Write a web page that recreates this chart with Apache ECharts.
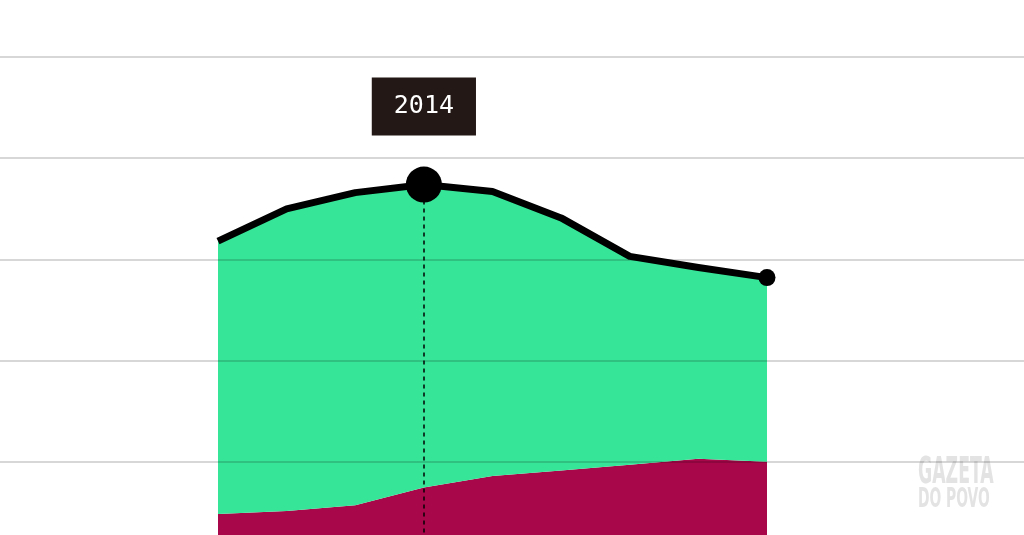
<!DOCTYPE html>
<html><head><meta charset="utf-8">
<script src="https://cdn.jsdelivr.net/npm/echarts@6/dist/echarts.min.js"></script>
<style>html,body{margin:0;padding:0;background:#fff;overflow:hidden;height:535px}#c{width:1024px;height:563px}</style>
</head><body><div id="c"></div>
<script>
const years = ['2011','2012','2013','2014','2015','2016','2017','2018','2019'];
const bottomValues = [0.485, 0.515, 0.57, 0.745, 0.86, 0.915, 0.97, 1.03, 1.0];
const totalValues = [3.18, 3.50, 3.66, 3.74, 3.67, 3.41, 3.03, 2.92, 2.82];
const gridTicks = [0, 1, 2, 3, 4, 5];
const highlightYear = '2014';
const lastYear = '2019';

const topValues = totalValues.map((t, i) => +(t - bottomValues[i]).toFixed(3));
const hiIdx = years.indexOf(highlightYear);
const lastIdx = years.indexOf(lastYear);

const chart = echarts.init(document.getElementById('c'));
chart.setOption({
  animation: false,
  grid: [
    {left: 0, right: 0, top: 57, bottom: 0},
    {left: 218, right: 257, top: 57, bottom: 0}
  ],
  xAxis: [
    {gridIndex: 0, type: 'value', show: false, min: 0, max: 1},
    {gridIndex: 1, type: 'category', data: years, boundaryGap: false, show: false}
  ],
  yAxis: [
    {gridIndex: 0, type: 'value', min: gridTicks[0], max: gridTicks[gridTicks.length-1], interval: 1, z: 5,
     axisLine: {show: false}, axisTick: {show: false}, axisLabel: {show: false},
     splitLine: {show: true, lineStyle: {color: 'rgba(0,0,0,0.21)', width: 1.6}}},
    {gridIndex: 1, type: 'value', min: gridTicks[0], max: gridTicks[gridTicks.length-1], interval: 1, show: false,
     splitLine: {show: false}}
  ],
  series: [
    {type: 'line', xAxisIndex: 1, yAxisIndex: 1, stack: 'a', data: bottomValues, symbol: 'none',
     lineStyle: {width: 0}, areaStyle: {color: '#a8084a', opacity: 1}, z: 1},
    {type: 'line', xAxisIndex: 1, yAxisIndex: 1, stack: 'a', data: topValues, symbol: 'none',
     lineStyle: {width: 0}, areaStyle: {color: '#37e598', opacity: 1}, z: 1},
    {type: 'line', xAxisIndex: 1, yAxisIndex: 1, data: totalValues, symbol: 'none',
     lineStyle: {width: 7, color: '#000', join: 'round'}, z: 6,
     markLine: {silent: true, symbol: 'none', label: {show: false},
       lineStyle: {color: '#000', type: [4, 4], width: 1.5},
       data: [[{coord: [highlightYear, totalValues[hiIdx]]}, {coord: [highlightYear, 0]}]]}},
    {type: 'scatter', xAxisIndex: 1, yAxisIndex: 1, z: 7,
     data: [
       {value: [highlightYear, totalValues[hiIdx]], symbolSize: 36,
        label: {show: true, position: 'top', distance: 31, formatter: highlightYear,
          color: '#fff', fontFamily: 'DejaVu Sans Mono', fontSize: 25, lineHeight: 26,
          backgroundColor: '#231815', padding: [16, 22, 16, 22], opacity: 1}},
       {value: [lastYear, totalValues[lastIdx]], symbolSize: 17}
     ],
     itemStyle: {color: '#000', opacity: 1}}
  ],
  graphic: [
    {type: 'text', left: 918, top: 455, scaleX: 0.52,
     style: {text: 'GAZETA', fill: '#e3e3e3', font: 'bold 37px "DejaVu Sans Condensed"'}},
    {type: 'text', left: 918, top: 486, scaleX: 0.57,
     style: {text: 'DO POVO', fill: '#e3e3e3', font: 'bold 27px "DejaVu Sans Condensed"'}}
  ]
});
</script></body></html>
